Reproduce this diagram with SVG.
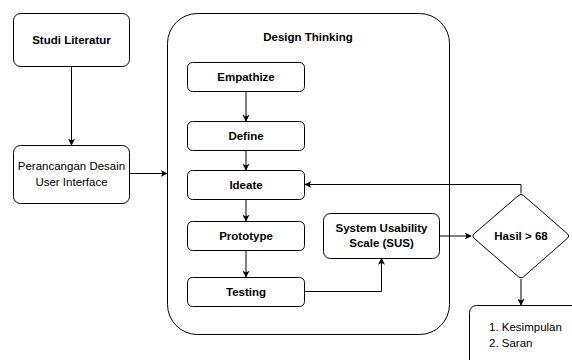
<svg xmlns="http://www.w3.org/2000/svg" width="572" height="360" viewBox="0 0 572 360">
  <defs>
    <marker id="arrow" viewBox="0 0 10 10" refX="9" refY="5" markerWidth="7" markerHeight="7" markerUnits="userSpaceOnUse" orient="auto">
      <path d="M0,0 L10,5 L0,10 L2.5,5 Z" fill="#000"/>
    </marker>
    <style>
      .box { fill: #fff; stroke: #000; stroke-width: 1; }
      .edge { fill: none; stroke: #000; stroke-width: 1; marker-end: url(#arrow); }
      .lbl { font-family: "Liberation Sans", Arial, sans-serif; font-size: 11.5px; fill: #000; text-anchor: middle; dominant-baseline: central; }
      .b { font-weight: bold; }
    </style>
  </defs>
  <rect width="572" height="360" fill="#fff"/>

  <g id="design-thinking">
    <rect class="box" x="167.5" y="13.5" width="282" height="321" rx="30" ry="30"/>
    <text class="lbl b" x="308" y="37">Design Thinking</text>
  </g>

  <g id="studi-literatur">
    <rect class="box" x="13.5" y="13.5" width="116" height="53" rx="7"/>
    <text class="lbl b" x="71.5" y="40">Studi Literatur</text>
  </g>

  <g id="perancangan">
    <rect class="box" x="13.5" y="145.5" width="116" height="58" rx="7"/>
    <text class="lbl" x="71.5" y="166">Perancangan Desain</text>
    <text class="lbl" x="71.5" y="182">User Interface</text>
  </g>

  <g id="empathize">
    <rect class="box" x="187.5" y="62.5" width="117" height="29" rx="5"/>
    <text class="lbl b" x="246" y="77">Empathize</text>
  </g>

  <g id="define">
    <rect class="box" x="187.5" y="121.5" width="117" height="29" rx="5"/>
    <text class="lbl b" x="246" y="136">Define</text>
  </g>

  <g id="ideate">
    <rect class="box" x="187.5" y="170.5" width="117" height="29" rx="5"/>
    <text class="lbl b" x="246" y="185">Ideate</text>
  </g>

  <g id="prototype">
    <rect class="box" x="187.5" y="221.5" width="117" height="29" rx="5"/>
    <text class="lbl b" x="246" y="236">Prototype</text>
  </g>

  <g id="testing">
    <rect class="box" x="187.5" y="277.5" width="117" height="29" rx="5"/>
    <text class="lbl b" x="246" y="292">Testing</text>
  </g>

  <g id="sus">
    <rect class="box" x="323.5" y="213.5" width="116" height="45" rx="7"/>
    <text class="lbl b" x="381.5" y="228">System Usability</text>
    <text class="lbl b" x="381.5" y="243">Scale (SUS)</text>
  </g>

  <g id="hasil">
    <path class="box" d="M518.5,195.5 Q521,193.3 523.5,195.5 L567.5,233.8 Q570,236 567.5,238.2 L523.5,276.8 Q521,279 518.5,276.8 L474,238.2 Q471.5,236 474,233.8 Z"/>
    <text class="lbl b" x="521" y="236">Hasil &gt; 68</text>
  </g>

  <g id="kesimpulan">
    <rect class="box" x="469.5" y="305.5" width="120" height="70" rx="7"/>
    <text class="lbl" x="489" y="327" style="text-anchor:start">1. Kesimpulan</text>
    <text class="lbl" x="489" y="343" style="text-anchor:start">2. Saran</text>
  </g>

  <g id="connectors">
    <path class="edge" d="M71.5,66.5 V145"/>
    <path class="edge" d="M129.5,173.5 H167"/>
    <path class="edge" d="M246,91.5 V121"/>
    <path class="edge" d="M246,150.5 V170"/>
    <path class="edge" d="M246,199.5 V221"/>
    <path class="edge" d="M246,250.5 V277"/>
    <path class="edge" d="M304.5,291.5 H381.5 V258.5"/>
    <path class="edge" d="M439.5,236 H471"/>
    <path class="edge" d="M521,193.5 V184.5 H305"/>
    <path class="edge" d="M521,279 V305"/>
  </g>
</svg>
